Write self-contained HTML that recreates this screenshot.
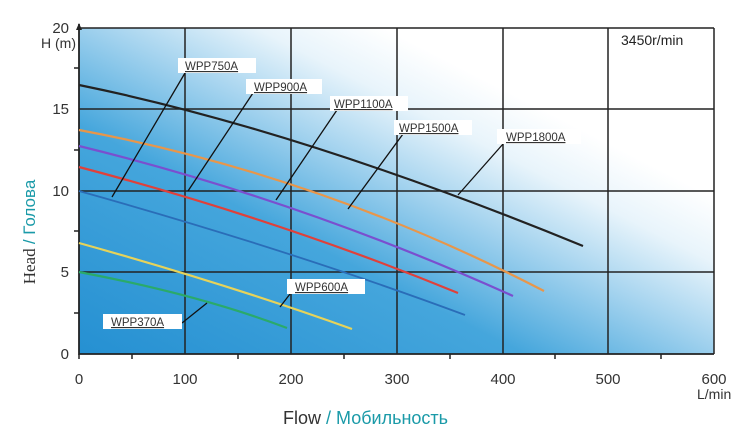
<!DOCTYPE html>
<html><head><meta charset="utf-8"><style>
html,body{margin:0;padding:0;background:#fff;}
svg{display:block;font-family:"Liberation Sans",sans-serif;}
</style></head><body>
<svg width="750" height="446" viewBox="0 0 750 446">
<defs>
<linearGradient id="bg" x1="0" y1="1" x2="1" y2="0">
<stop offset="0" stop-color="#2590d2"/>
<stop offset="0.35" stop-color="#45a6dc"/>
<stop offset="0.52" stop-color="#a6d4ef"/>
<stop offset="0.64" stop-color="#e8f4fb"/>
<stop offset="0.74" stop-color="#ffffff"/>
</linearGradient>
</defs>
<rect x="79" y="28" width="635" height="326" fill="url(#bg)"/>
<g stroke="#222" stroke-width="1.5" fill="none">
<path d="M185 28V354M291 28V354M397 28V354M503 28V354M608 28V354M714 28V354"/>
<path d="M79 28H714M79 109H714M79 191H714M79 272H714"/>
<path d="M79 24V354H714" stroke-width="1.8"/>
<path d="M132 354v5M238 354v5M344 354v5M450 354v5M555 354v5M661 354v5M79 354v5"/>
<path d="M74 313h5M74 231h5M74 150h5M74 68h5"/>
</g>
<path d="M76 30L79 23L82 30Z" fill="#222"/>
<g fill="none" stroke-width="2.2">
<path d="M79 85Q300 130 583 246" stroke="#222"/>
<path d="M79 130Q320 175 544 291" stroke="#e8964a"/>
<path d="M79 146Q300 200 513 296" stroke="#7a4fcf"/>
<path d="M79 167Q280 220 458 293" stroke="#e0403a"/>
<path d="M79 191Q290 250 465 315" stroke="#2a6db8" stroke-width="1.8"/>
<path d="M79 243Q230 285 352 329" stroke="#e6d35a"/>
<path d="M79 272Q200 295 287 328" stroke="#2aaa6a"/>
</g>
<g stroke="#111" stroke-width="1.3" fill="none">
<path d="M185 73L112 197"/>
<path d="M253 93L188 191"/>
<path d="M337 110L276 200"/>
<path d="M403 134L348 209"/>
<path d="M503 144L458 195"/>
<path d="M290 294L280 307"/>
<path d="M182 323L207 303"/>
</g>
<g fill="#fff">
<rect x="178" y="58" width="78" height="15"/>
<rect x="246" y="79" width="76" height="15"/>
<rect x="330" y="96" width="78" height="15"/>
<rect x="394" y="120" width="78" height="15"/>
<rect x="497" y="129" width="84" height="15"/>
<rect x="287" y="279" width="78" height="15"/>
<rect x="103" y="314" width="79" height="15"/>
</g>
<g font-size="11.5" fill="#333" text-decoration="underline">
<text x="185" y="70">WPP750A</text>
<text x="254" y="91">WPP900A</text>
<text x="334" y="108">WPP1100A</text>
<text x="399" y="132">WPP1500A</text>
<text x="506" y="141">WPP1800A</text>
<text x="295" y="291">WPP600A</text>
<text x="111" y="326">WPP370A</text>
</g>
<text x="621" y="45" font-size="14" fill="#222">3450r/min</text>
<g font-size="15" fill="#333" text-anchor="end">
<text x="69" y="33">20</text>
<text x="69" y="114">15</text>
<text x="69" y="196">10</text>
<text x="69" y="277">5</text>
<text x="69" y="359">0</text>
</g>
<text x="76" y="48" font-size="14" fill="#333" text-anchor="end">H (m)</text>
<g font-size="15" fill="#333" text-anchor="middle">
<text x="79" y="384">0</text>
<text x="185" y="384">100</text>
<text x="291" y="384">200</text>
<text x="397" y="384">300</text>
<text x="503" y="384">400</text>
<text x="608" y="384">500</text>
<text x="714" y="384">600</text>
</g>
<text x="697" y="399" font-size="14" fill="#333">L/min</text>
<text x="283" y="424" font-size="18" fill="#333">Flow <tspan fill="#1a9aa8">/ Мобильность</tspan></text>
<text transform="translate(35,232) rotate(-90)" font-size="17" fill="#333" text-anchor="middle" font-family="Liberation Serif,serif">Head <tspan fill="#1a9aa8" font-family="Liberation Sans,sans-serif">/ Голова</tspan></text>
</svg>
</body></html>
